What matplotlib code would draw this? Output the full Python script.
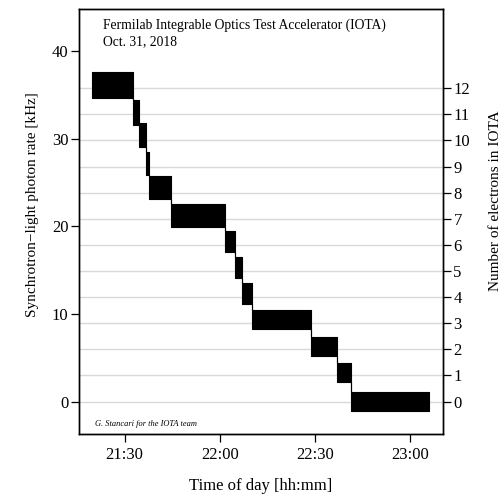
import numpy as np
import matplotlib
matplotlib.use('Agg')
import matplotlib.pyplot as plt

# step data: minutes after 21:00, rate levels in kHz
step_start = [19.8, 32.7, 34.6, 36.7, 37.7, 44.6, 61.7, 65.0, 67.1, 70.1, 88.8, 96.9, 101.4]
step_end = 126.2
rate_level = [36.1, 33.0, 30.4, 27.2, 24.4, 21.2, 18.3, 15.3, 12.3, 9.4, 6.3, 3.3, 0.0]
rate_spread = [1.5, 1.4, 1.4, 1.3, 1.3, 1.3, 1.2, 1.2, 1.2, 1.1, 1.1, 1.1, 1.1]

khz_per_electron = 2.98
electron_ticks = list(range(0, 13))
time_ticks = [30, 60, 90, 120]
time_labels = ['21:30', '22:00', '22:30', '23:00']

plt.rcParams['font.family'] = ['Liberation Serif', 'DejaVu Serif']

fig = plt.figure(figsize=(5.04, 4.95), dpi=100)
ax = fig.add_axes([0.1567, 0.1232, 0.7223, 0.8586])
ax2 = ax.twinx()

x = np.array(step_start + [step_end])
lo = np.array([l - s for l, s in zip(rate_level, rate_spread)])
hi = np.array([l + s for l, s in zip(rate_level, rate_spread)])
lo = np.append(lo, lo[-1])
hi = np.append(hi, hi[-1])
ax.fill_between(x, lo, hi, step='post', color='black', linewidth=0.8, edgecolor='black')

ylim = (-3.7, 44.8)
ax.set_ylim(ylim)
ax.set_xlim(15.6, 130.5)
ax.set_yticks([0, 10, 20, 30, 40])
ax.set_xticks(time_ticks)
ax.set_xticklabels(time_labels)

ax2.set_ylim(ylim[0] / khz_per_electron, ylim[1] / khz_per_electron)
ax2.set_yticks(electron_ticks)
ax2.grid(axis='y', color='#d9d9d9', linewidth=1.0)
ax.set_zorder(ax2.get_zorder() + 1)
ax.patch.set_visible(False)

for a in (ax, ax2):
    a.tick_params(direction='out', length=5.5, width=0.9, labelsize=12, pad=2)
    for sp in a.spines.values():
        sp.set_linewidth(1.0)
ax.tick_params(axis='x', pad=4)

ax.set_xlabel('Time of day [hh:mm]', fontsize=12, labelpad=11)
ax.set_ylabel('Synchrotron\u2212light photon rate [kHz]', fontsize=11)
ax.yaxis.set_label_coords(-0.11, 0.54)
ax2.set_ylabel('Number of electrons in IOTA', fontsize=11)
ax2.yaxis.set_label_coords(1.125, 0.55)

ax.text(0.066, 0.962, 'Fermilab Integrable Optics Test Accelerator (IOTA)',
        transform=ax.transAxes, fontsize=9.8, va='center', ha='left')
ax.text(0.066, 0.922, 'Oct. 31, 2018', transform=ax.transAxes, fontsize=9.8, va='center', ha='left')
ax.text(0.044, 0.024, 'G. Stancari for the IOTA team', transform=ax.transAxes,
        fontsize=6, style='italic', va='center', ha='left')

fig.savefig('out.png', dpi=100)
